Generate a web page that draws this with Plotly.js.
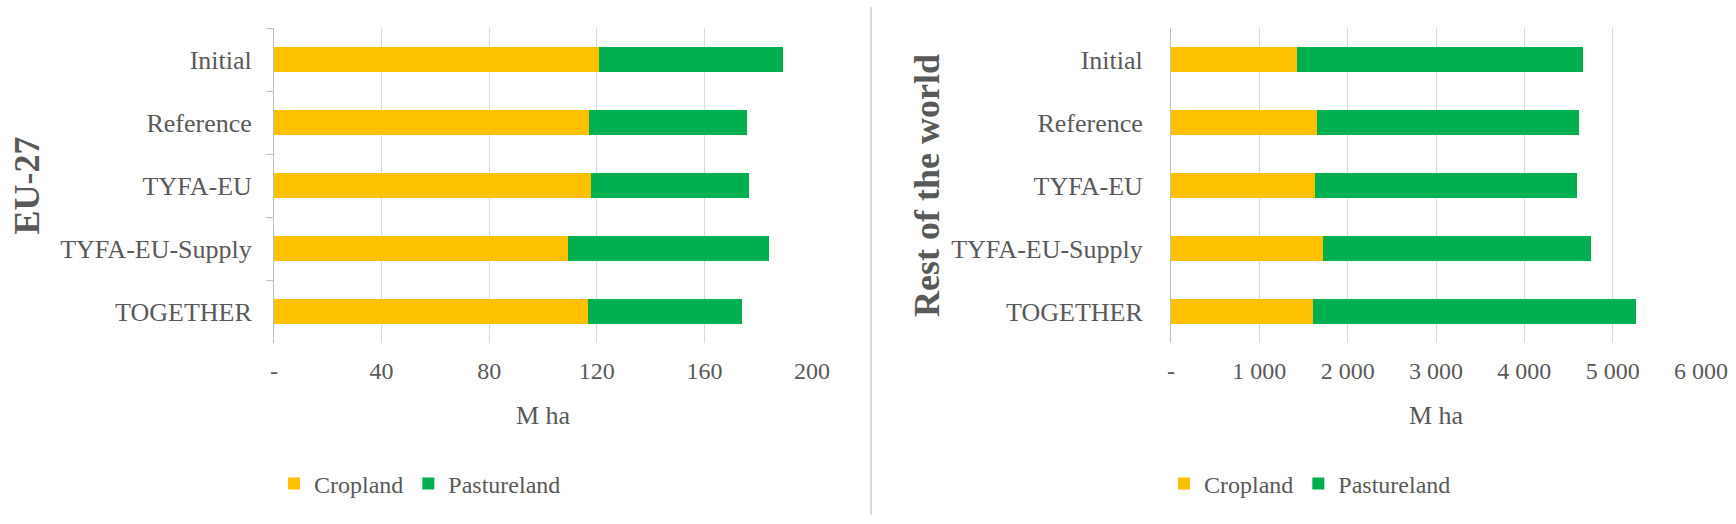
<!DOCTYPE html>
<html>
<head>
<meta charset="utf-8">
<script src="https://cdn.plot.ly/plotly-3.0.1.min.js"></script>
<style>
  body { margin: 0; background: #fff; }
  #plot { width: 1736px; height: 524px; }
</style>
</head>
<body>
<div id="plot"></div>
<script>
// Scenarios (top to bottom)
let scenarios = ["Initial", "Reference", "TYFA-EU", "TYFA-EU-Supply", "TOGETHER"]

// EU-27, M ha
let euCropland = [120.9, 117.2, 118.0, 109.3, 116.6]
let euPasture = [68.4, 58.8, 58.7, 74.8, 57.2]

// Rest of the world, M ha
let rowCropland = [1422, 1655, 1625, 1716, 1603]
let rowPasture = [3242, 2964, 2971, 3039, 3665]

// Tick labels
let euTicks = [0, 40, 80, 120, 160, 200]
let euTickText = ["-", "40", "80", "120", "160", "200"]
let rowTicks = [0, 1000, 2000, 3000, 4000, 5000, 6000]
let rowTickText = ["-", "1 000", "2 000", "3 000", "4 000", "5 000", "6 000"]

const yellow = "#FFC000"
const green = "#00B050"
const grey = "#595959"
const serif = "Liberation Serif, Times New Roman, serif"

let trace1 = {
  y: scenarios, x: euCropland, name: "Cropland", type: "bar", orientation: "h",
  marker: {color: yellow}, xaxis: "x", yaxis: "y", legend: "legend"
}
let trace2 = {
  y: scenarios, x: euPasture, name: "Pastureland", type: "bar", orientation: "h",
  marker: {color: green}, xaxis: "x", yaxis: "y", legend: "legend"
}
let trace3 = {
  y: scenarios, x: rowCropland, name: "Cropland", type: "bar", orientation: "h",
  marker: {color: yellow}, xaxis: "x2", yaxis: "y2", legend: "legend2"
}
let trace4 = {
  y: scenarios, x: rowPasture, name: "Pastureland", type: "bar", orientation: "h",
  marker: {color: green}, xaxis: "x2", yaxis: "y2", legend: "legend2"
}

let data = [trace1, trace2, trace3, trace4]

let xCommon = {
  showgrid: true, gridcolor: "#d9d9d9", gridwidth: 1,
  zeroline: false, showline: false, ticks: "",
  tickfont: {family: serif, size: 24, color: grey},
  ticklabelstandoff: 11,
  fixedrange: true
}
let yCommon = {
  autorange: "reversed", showgrid: false, zeroline: false,
  showline: true, linecolor: "#bfbfbf", linewidth: 1,
  tickfont: {family: serif, size: 26, color: grey},
  fixedrange: true
}

let yTop = (524 - 28) / 524
let yBot = (524 - 343) / 524

let layout = {
  width: 1736, height: 524,
  margin: {l: 0, r: 0, t: 0, b: 0},
  paper_bgcolor: "#fff", plot_bgcolor: "#fff",
  barmode: "stack", bargap: 0.6,
  font: {family: serif, color: grey},
  xaxis: Object.assign({}, xCommon, {
    domain: [274 / 1736, 812 / 1736], anchor: "y",
    range: [0, 200], tickvals: euTicks, ticktext: euTickText,
    title: {text: "M ha", font: {family: serif, size: 26, color: grey}, standoff: 22}
  }),
  yaxis: Object.assign({}, yCommon, {
    domain: [yBot, yTop], anchor: "x",
    ticks: "outside", tickson: "boundaries", ticklen: 7, tickcolor: "#bfbfbf",
    ticklabelstandoff: 16,
    title: {text: "<b>EU-27</b>", font: {family: serif, size: 36, color: grey}, standoff: 9}
  }),
  xaxis2: Object.assign({}, xCommon, {
    domain: [1171 / 1736, 1701 / 1736], anchor: "y2",
    range: [0, 6000], tickvals: rowTicks, ticktext: rowTickText,
    title: {text: "M ha", font: {family: serif, size: 26, color: grey}, standoff: 22}
  }),
  yaxis2: Object.assign({}, yCommon, {
    domain: [yBot, yTop], anchor: "x2",
    ticks: "", ticklabelstandoff: 22,
    title: {text: "<b>Rest of the world</b>", font: {family: serif, size: 36, color: grey}, standoff: 0}
  }),
  legend: {
    orientation: "h", x: 420 / 1736, xanchor: "center", y: 40 / 524, yanchor: "middle",
    font: {family: serif, size: 24, color: grey}, traceorder: "normal"
  },
  legend2: {
    orientation: "h", x: 1310 / 1736, xanchor: "center", y: 40 / 524, yanchor: "middle",
    font: {family: serif, size: 24, color: grey}, traceorder: "normal"
  },
  shapes: [{
    type: "line", xref: "paper", yref: "paper",
    x0: 871 / 1736, x1: 871 / 1736, y0: 9 / 524, y1: 517 / 524,
    line: {color: "#d9d9d9", width: 2}
  }],
  showlegend: true
}

Plotly.newPlot("plot", data, layout, {displayModeBar: false, staticPlot: true})
</script>
</body>
</html>
